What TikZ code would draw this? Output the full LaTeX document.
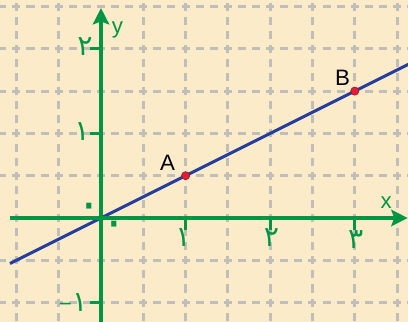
\documentclass[tikz,border=0pt]{standalone}
\usepackage{fontspec}
\setmainfont{Liberation Sans}
\newfontfamily\fafont[Script=Arabic]{DejaVu Sans}
\usetikzlibrary{arrows.meta}
\definecolor{paper}{RGB}{252,235,201}
\definecolor{gridgray}{RGB}{192,190,184}
\definecolor{axgreen}{RGB}{0,150,68}
\definecolor{lnblue}{RGB}{38,62,160}
\definecolor{ptred}{RGB}{228,28,52}
\tikzset{
  gridln/.style={draw=gridgray,line width=2pt,dash pattern=on 0.19cm off 0.1433cm,dash phase=0.095cm},
  axisln/.style={draw=axgreen,line width=2.3pt,-{Stealth[length=11pt,width=11pt,inset=2pt]}},
  tickln/.style={draw=axgreen,line width=1.8pt},
  blueln/.style={draw=lnblue,line width=2pt},
  num/.style={text=axgreen,font=\fafont\fontsize{19}{19}\selectfont,inner sep=0pt},
  zero/.style={text=axgreen,font=\fafont\fontsize{32}{32}\selectfont,inner sep=0pt},
  lett/.style={font=\fontsize{15}{15}\selectfont,inner sep=0pt},
  ptdot/.style={circle,fill=ptred,draw=ptred!70!black,line width=0.4pt,inner sep=0pt,minimum size=5.5pt},
}
\begin{document}
\begin{tikzpicture}[x=2cm,y=2cm]
  \path[use as bounding box,fill=paper] (-1.194,-1.229) rectangle (3.629,2.577);
  \clip (-1.194,-1.229) rectangle (3.629,2.577);
  \foreach \x in {-1,-0.5,0.5,1,1.5,2,2.5,3,3.5} \draw[gridln] (\x,-1.5) -- (\x,3);
  \foreach \y in {-1,-0.5,0.5,1,1.5,2,2.5} \draw[gridln] (-1.5,\y) -- (4,\y);
  \coordinate (lnfrom) at (-1.076,-0.538);
  \coordinate (lnto) at (3.7,1.85);
  \draw[blueln] (lnfrom) -- (lnto);
  \coordinate (xfrom) at (-1.076,0);
  \coordinate (xto) at (3.625,0);
  \coordinate (yfrom) at (0,-1.3);
  \coordinate (yto) at (0,2.482);
  \draw[axisln] (xfrom) -- (xto);
  \draw[axisln] (yfrom) -- (yto);
  \foreach \t in {1,2,3} \draw[tickln] (\t,0) -- (\t,-0.14);
  \foreach \t in {-1,1,2} \draw[tickln] (0,\t) -- (-0.13,\t);
  \node[ptdot] (A) at (1,0.5) {};
  \node[ptdot] (B) at (3,1.5) {};
  \node[lett] (lblA) at (0.786,0.656) {A};
  \node[lett] (lblB) at (2.855,1.66) {B};
  \node[lett,text=axgreen] (lblx) at (3.37,0.177) {x};
  \node[lett,text=axgreen] (lbly) at (0.195,2.22) {y};
  \node[num] (y2) at (-0.189,2.03) {۲};
  \node[num] (y1) at (-0.225,1.02) {۱};
  \node[num] (ym1) at (-0.33,-1.0) {{\normalfont\fontsize{15}{15}\selectfont −}۱};
  \node[zero] (y0) at (-0.134,0.083) {۰};
  \node[zero] (x0) at (0.154,-0.136) {۰};
  \node[num] (x1) at (0.97,-0.236) {۱};
  \node[num] (x2) at (2.015,-0.236) {۲};
  \node[num] (x3) at (3.01,-0.25) {۳};
\end{tikzpicture}
\end{document}
